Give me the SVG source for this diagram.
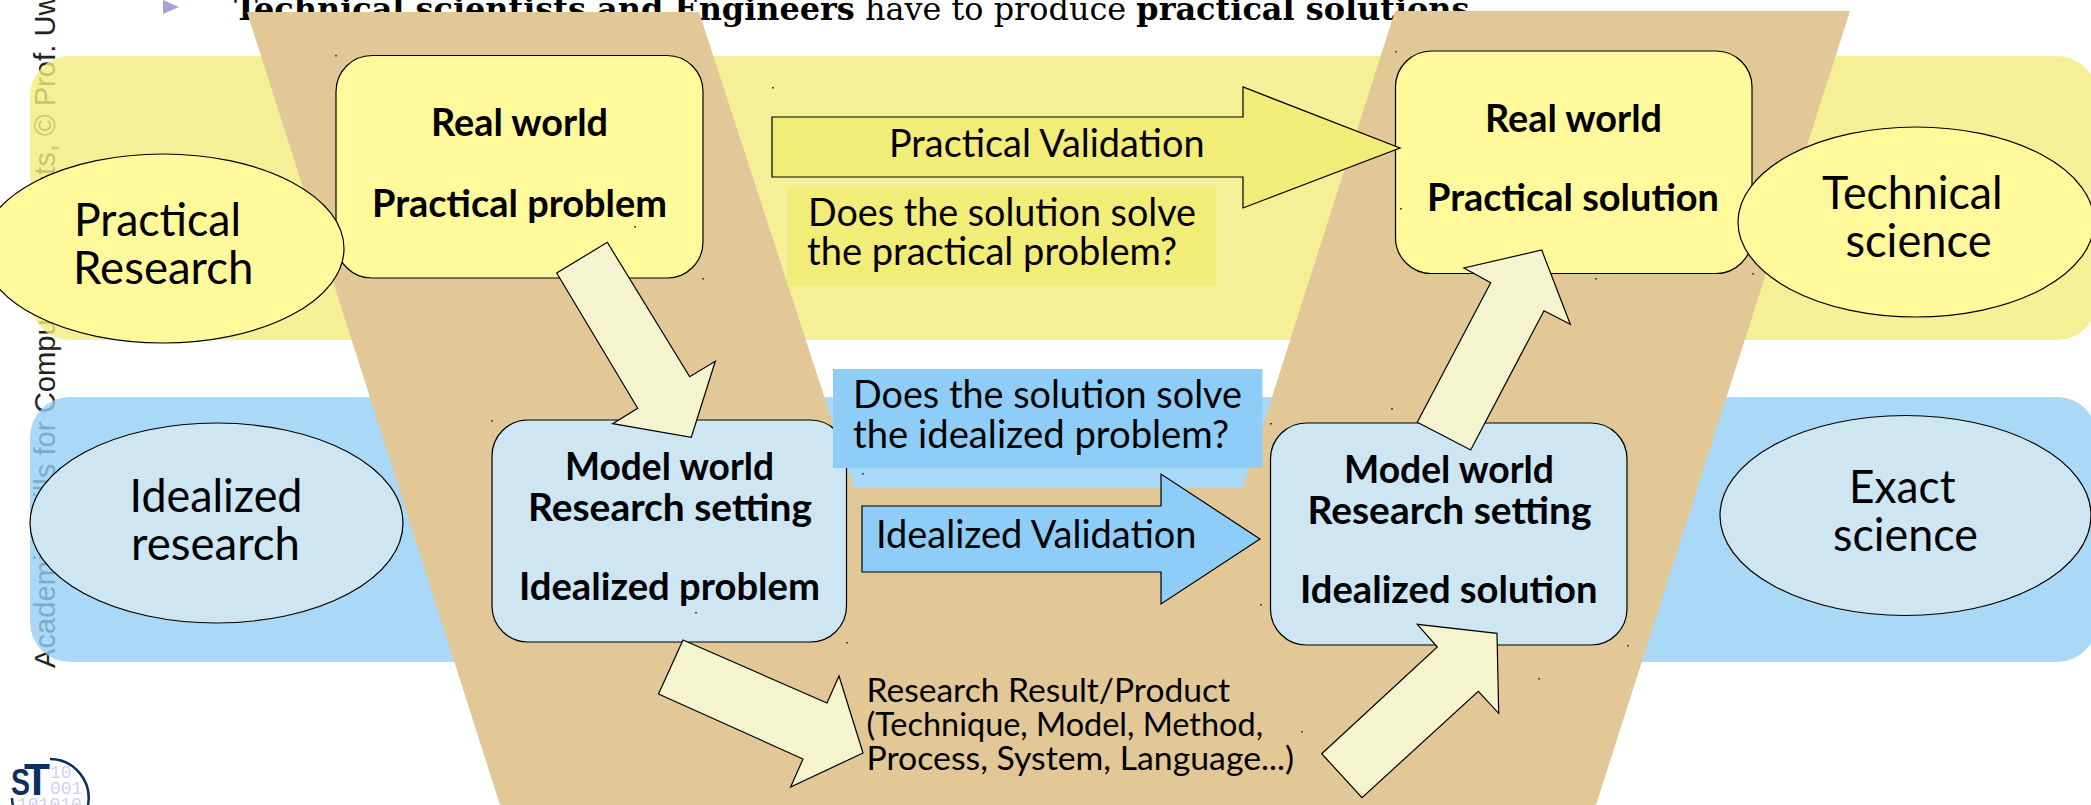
<svg xmlns="http://www.w3.org/2000/svg" width="2091" height="805" viewBox="0 0 2091 805">
<style>
text{font-family:"Lato","Noto Sans",sans-serif;fill:#000}
.b{font-weight:700;font-size:38px}
.e{font-size:47px}
.l{font-size:39px}
.s{font-size:33px}
.ln{stroke:#000;stroke-width:1.2}
.yb{fill:#fff99b}
.bb{fill:#cde6f2}
.pale{fill:#f4f4cf;stroke:#000;stroke-width:1.2}
.side{font-family:"Liberation Sans",Arial,sans-serif;font-size:29.2px;fill:#222}
.top{font-family:"DejaVu Serif",serif;font-size:31.9px}
.logo{font-family:"Liberation Mono",monospace;font-size:18px;fill:#d0d0f2}
.st{font-family:"Liberation Sans",sans-serif;font-weight:700;fill:#0b2f5e}
</style>
<rect width="2091" height="805" fill="#fff"/>
<g id="background">
<text class="side" transform="translate(55 668) rotate(-90)">Academic Skills for Computer Scientists, © Prof. Uwe Aßmann</text>
<polygon points="163,0 179,7 163,14" fill="#a3a3d8"/>
<text class="top" x="234" y="20"><tspan font-weight="700">Technical scientists and Engineers</tspan> have to produce <tspan font-weight="700">practical solutions</tspan></text>
<rect x="30" y="56" width="2067" height="284" rx="40" fill="#f2ec7d" fill-opacity=".8"/>
<rect x="30" y="397" width="2067" height="265" rx="40" fill="#95cff5" fill-opacity=".8"/>
<polygon points="247,12 699,12 854,488 1243,488 1395,11 1850,11 1596,805 500,805" fill="#e2c797"/>
</g>
<g id="logo">
<path d="M50 759A39 39 0 0 1 88 805M12 798Q12 802 13 805" fill="none" stroke="#0b2f5e" stroke-width="2.5"/>
<text class="logo" x="50" y="778">10</text>
<text class="logo" x="50" y="794">001</text>
<text class="logo" x="17" y="810">101010</text>
<text class="st" x="24" y="795" font-size="45" textLength="26" lengthAdjust="spacingAndGlyphs">T</text>
<text class="st" x="11" y="795" font-size="36" textLength="19" lengthAdjust="spacingAndGlyphs">S</text>
</g>
<g id="does-practical">
<rect x="787" y="187" width="429.500" height="99" fill="#f2ec78"/>
<text class="l" x="808" y="225.700" textLength="388" lengthAdjust="spacingAndGlyphs">Does the solution solve</text>
<text class="l" x="807" y="265" textLength="370" lengthAdjust="spacingAndGlyphs">the practical problem?</text>
</g>
<g id="real-world-problem">
<rect class="yb ln" x="336" y="55.500" width="367" height="222.500" rx="36"/>
<text class="b" x="431" y="135.700" textLength="177" lengthAdjust="spacingAndGlyphs">Real world</text>
<text class="b" x="372" y="216.700" textLength="295" lengthAdjust="spacingAndGlyphs">Practical problem</text>
</g>
<g id="real-world-solution">
<rect class="yb ln" x="1395.500" y="51" width="356.500" height="222.500" rx="36"/>
<text class="b" x="1485" y="132" textLength="177" lengthAdjust="spacingAndGlyphs">Real world</text>
<text class="b" x="1427" y="211" textLength="292" lengthAdjust="spacingAndGlyphs">Practical solution</text>
</g>
<g id="model-world-problem">
<rect class="bb ln" x="492" y="420" width="354.500" height="222" rx="36"/>
<text class="b" x="565" y="480" textLength="209" lengthAdjust="spacingAndGlyphs">Model world</text>
<text class="b" x="528" y="520.700" textLength="284" lengthAdjust="spacingAndGlyphs">Research setting</text>
<text class="b" x="519" y="600" textLength="301" lengthAdjust="spacingAndGlyphs">Idealized problem</text>
</g>
<g id="model-world-solution">
<rect class="bb ln" x="1270.500" y="423" width="356.500" height="222" rx="36"/>
<text class="b" x="1344" y="483" textLength="210" lengthAdjust="spacingAndGlyphs">Model world</text>
<text class="b" x="1307.500" y="524" textLength="284" lengthAdjust="spacingAndGlyphs">Research setting</text>
<text class="b" x="1300" y="603" textLength="297.500" lengthAdjust="spacingAndGlyphs">Idealized solution</text>
</g>
<g id="does-idealized">
<rect x="833" y="369" width="429.500" height="99" fill="#8ecdf8"/>
<text class="l" x="853" y="408" textLength="389" lengthAdjust="spacingAndGlyphs">Does the solution solve</text>
<text class="l" x="853" y="448" textLength="376" lengthAdjust="spacingAndGlyphs">the idealized problem?</text>
</g>
<g id="practical-research">
<ellipse class="yb ln" cx="163" cy="248.500" rx="181" ry="94.500"/>
<text class="e" x="74" y="236" textLength="167" lengthAdjust="spacingAndGlyphs">Practical</text>
<text class="e" x="73" y="284" textLength="180.500" lengthAdjust="spacingAndGlyphs">Research</text>
</g>
<g id="idealized-research">
<ellipse class="bb ln" cx="216.500" cy="523" rx="186.500" ry="100"/>
<text class="e" x="129.500" y="511.700" textLength="173" lengthAdjust="spacingAndGlyphs">Idealized</text>
<text class="e" x="131" y="560" textLength="169" lengthAdjust="spacingAndGlyphs">research</text>
</g>
<g id="technical-science">
<ellipse class="yb ln" cx="1916" cy="222" rx="178" ry="95"/>
<text class="e" x="1822" y="209" textLength="180.500" lengthAdjust="spacingAndGlyphs">Technical</text>
<text class="e" x="1845.500" y="257" textLength="146" lengthAdjust="spacingAndGlyphs">science</text>
</g>
<g id="exact-science">
<ellipse class="bb ln" cx="1905.500" cy="515.500" rx="185.500" ry="100"/>
<text class="e" x="1849" y="503" textLength="106.500" lengthAdjust="spacingAndGlyphs">Exact</text>
<text class="e" x="1833" y="550.700" textLength="145" lengthAdjust="spacingAndGlyphs">science</text>
</g>
<g id="connectors">
<polygon class="ln" fill="#f2ec78" points="772,117 1243,117 1243,87 1400,148 1243,208 1243,177 772,177"/>
<text class="l" x="889" y="156.700" textLength="315.500" lengthAdjust="spacingAndGlyphs">Practical Validation</text>
<polygon class="ln" fill="#8ecdf8" points="862,506 1161,506 1161,474 1260,539 1161,604 1161,572 862,572"/>
<text class="l" x="876" y="548" textLength="320.500" lengthAdjust="spacingAndGlyphs">Idealized Validation</text>
<polygon class="pale" points="607.300,242.300 689.700,376.700 715.300,361.300 691.300,437.300 612.700,423.700 637.700,408.300 556.700,273"/>
<polygon class="pale" points="683,640 827,703 839,676 863,753 790.600,787 803,759 658.500,694"/>
<polygon class="pale" points="1321.700,753.700 1437.300,647 1417.300,624.300 1497,633.300 1498.700,713.300 1478.300,691.300 1362,797.700"/>
<polygon class="pale" points="1417.300,422.300 1490.700,282.700 1464,268 1541.700,250 1570.300,324.300 1544,310.700 1470.700,450"/>
</g>
<g id="research-result">
<text class="s" x="866.500" y="701.700" textLength="363.500" lengthAdjust="spacingAndGlyphs">Research Result/Product</text>
<text class="s" x="866.500" y="736" textLength="396.500" lengthAdjust="spacingAndGlyphs">(Technique, Model, Method,</text>
<text class="s" x="866.500" y="770" textLength="427.500" lengthAdjust="spacingAndGlyphs">Process, System, Language...)</text>
</g>
<path id="specks" fill="#444" d="M335 55h2v1.500h-2zM634 226h2v1.500h-2zM702 278h2v1.500h-2zM772 87h2v1.500h-2zM491 420h2v1.500h-2zM695 612h2v1.500h-2zM846 642h2v1.500h-2zM862 473h2v1.500h-2zM1395 51h2v1.500h-2zM1400 208h2v1.500h-2zM1595 278h2v1.500h-2zM1752 273h2v1.500h-2zM1391 408h2v1.500h-2zM1270 423h2v1.500h-2zM1260 604h2v1.500h-2zM1627 645h2v1.500h-2zM1538 678h2v1.500h-2zM1301 731h2v1.500h-2z"/>
</svg>
